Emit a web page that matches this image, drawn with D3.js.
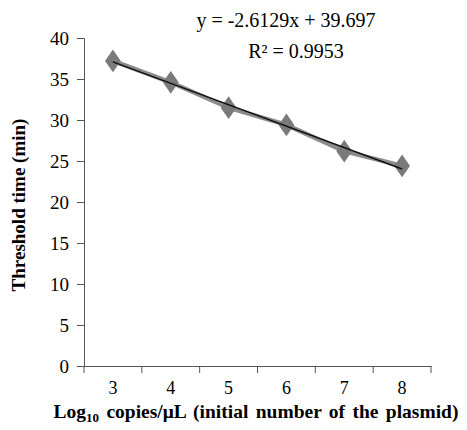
<!DOCTYPE html>
<html>
<head>
<meta charset="utf-8">
<script src="https://cdn.jsdelivr.net/npm/d3@7"></script>
<style>
    body { margin: 0; background: #fff; }
    text { font-family: "Liberation Serif", "Times New Roman", serif; }
</style>
</head>
<body>
<svg id="chart" width="467" height="430"></svg>
<script>
// data
const logCopies = [3, 4, 5, 6, 7, 8];
const thresholdTime = [37.2, 34.6, 31.5, 29.4, 26.2, 24.4];
const yTicks = [0, 5, 10, 15, 20, 25, 30, 35, 40];
const slope = -2.6129;      // Excel trendline, x = point index 1..6
const intercept = 39.697;

let svg = d3.select("#chart");
let margin = {left: 84, right: 36, top: 38, bottom: 64};
let width = 467, height = 430;

let x = d3.scaleBand()
    .domain(logCopies)
    .range([margin.left, width - margin.right]);
let y = d3.scaleLinear()
    .domain([0, 40])
    .range([height - margin.bottom, margin.top]);

let cx = d => x(d) + x.bandwidth() / 2;

// y axis
let yAxis = svg.append("g")
    .attr("transform", "translate(" + margin.left + ",0)")
    .call(d3.axisLeft(y).tickValues(yTicks).tickSize(7).tickPadding(8));
// x axis, ticks on category boundaries like Excel
let xAxis = svg.append("g")
    .attr("transform", "translate(0," + (height - margin.bottom) + ")")
    .call(d3.axisBottom(x).tickSize(0).tickPadding(15));

let bounds = logCopies.map(d => x(d)).concat([x(8) + x.bandwidth()]);
xAxis.selectAll("line.bound")
    .data(bounds)
    .enter()
    .append("line")
    .attr("class", "bound")
    .attr("x1", d => d).attr("x2", d => d)
    .attr("y1", 0).attr("y2", 7)
    .attr("stroke", "#555");

svg.selectAll(".domain").attr("stroke", "#555");
svg.selectAll(".tick line").attr("stroke", "#555");
svg.selectAll(".tick text")
    .attr("fill", "#000")
    .attr("font-family", "Liberation Serif")
    .style("font-size", "19px")
    .style("font-family", "'Liberation Serif', serif");
xAxis.selectAll(".tick text").style("font-size", "18px");

// data line + markers
let pts = logCopies.map((d, i) => ({x: d, y: thresholdTime[i]}));
let line = d3.line().x(d => cx(d.x)).y(d => y(d.y));

svg.append("path")
    .datum(pts)
    .attr("d", line)
    .attr("fill", "none")
    .attr("stroke", "#8c8c8c")
    .attr("stroke-width", 4.5);

svg.selectAll("path.marker")
    .data(pts)
    .enter()
    .append("path")
    .attr("class", "marker")
    .attr("d", d3.symbol().type(d3.symbolDiamond).size(150))
    .attr("transform", d => "translate(" + cx(d.x) + "," + y(d.y) + ") scale(1.2,1)")
    .attr("fill", "#7a7a7a");

// trendline
let first = 1, last = logCopies.length;
svg.append("line")
    .attr("x1", cx(logCopies[0]))
    .attr("y1", y(intercept + slope * first))
    .attr("x2", cx(logCopies[last - 1]))
    .attr("y2", y(intercept + slope * last))
    .attr("stroke", "#111")
    .attr("stroke-width", 1.5);

// equation
svg.append("text")
    .attr("x", 286).attr("y", 27)
    .attr("text-anchor", "middle")
    .style("font-size", "20px")
    .text("y = -2.6129x + 39.697");
svg.append("text")
    .attr("x", 296).attr("y", 58)
    .attr("text-anchor", "middle")
    .style("font-size", "20px")
    .text("R² = 0.9953");

// axis titles
svg.append("text")
    .attr("transform", "translate(25,205) rotate(-90)")
    .attr("text-anchor", "middle")
    .style("font-size", "19px")
    .style("font-weight", "bold")
    .text("Threshold time (min)");

let xt = svg.append("text")
    .attr("x", 256).attr("y", 418)
    .attr("text-anchor", "middle")
    .style("font-size", "19.5px")
    .style("font-weight", "bold")
    .style("word-spacing", "2.5px");
xt.append("tspan").text("Log");
xt.append("tspan").attr("dy", 4).style("font-size", "13px").text("10");
xt.append("tspan").attr("dy", -4).text(" copies/μL (initial number of the plasmid)");
</script>
</body>
</html>
